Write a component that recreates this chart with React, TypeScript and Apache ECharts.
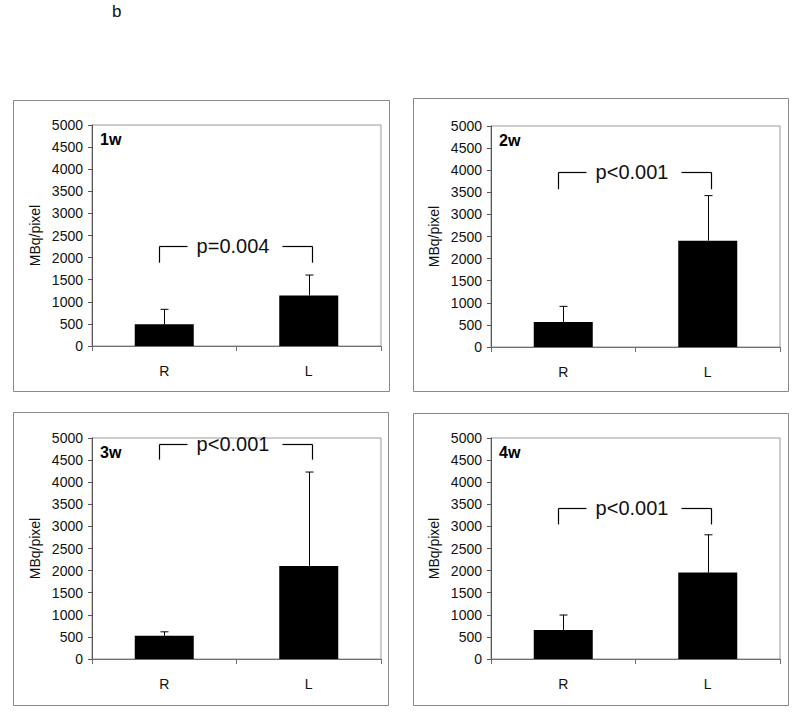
import React, { useEffect, useRef } from "react";
import * as echarts from "echarts";

const categories = ["R", "L"];
const panelLabels = ["1w", "2w", "3w", "4w"];
const meanR = [490, 565, 525, 655];
const meanL = [1145, 2405, 2105, 1955];
const sdR = [340, 355, 90, 340];
const sdL = [460, 1020, 2125, 855];
const bracketTop = [2270, 3950, 4870, 3420];
const bracketBottom = [1885, 3570, 4510, 3045];
const pLabels = ["p=0.004", "p<0.001", "p<0.001", "p<0.001"];
const yTicks = { min: 0, max: 5000, interval: 500 };

const FONT = "'Liberation Sans', Arial, sans-serif";

const grids = [
  { left: 92, top: 125, width: 289, height: 221 },
  { left: 491, top: 126, width: 289, height: 221 },
  { left: 92, top: 438, width: 289, height: 221 },
  { left: 491, top: 438, width: 289, height: 221 },
];
const frames = [
  { x: 13, y: 100, width: 376, height: 291 },
  { x: 413, y: 98, width: 375, height: 293 },
  { x: 13, y: 412, width: 375, height: 293 },
  { x: 413, y: 413, width: 375, height: 292 },
];

export default function App() {
  const ref = useRef<HTMLDivElement>(null);
  useEffect(() => {
    if (!ref.current) return;
    const chart = echarts.init(ref.current, null, { renderer: "svg" });

    const xAxis: any[] = [];
    const yAxis: any[] = [];
    const series: any[] = [];

    panelLabels.forEach((label, i) => {
      xAxis.push({
        type: "category",
        gridIndex: i,
        data: categories,
        boundaryGap: true,
        axisLine: { lineStyle: { color: "#707070", width: 1 } },
        axisTick: { show: true, alignWithLabel: false, length: 5, lineStyle: { color: "#707070" } },
        axisLabel: { color: "#111", fontSize: 14, fontFamily: FONT, margin: 18 },
        splitLine: { show: false },
      });
      yAxis.push({
        type: "value",
        gridIndex: i,
        min: yTicks.min,
        max: yTicks.max,
        interval: yTicks.interval,
        name: "MBq/pixel",
        nameLocation: "middle",
        nameGap: 50,
        nameTextStyle: { color: "#111", fontSize: 14, fontFamily: FONT },
        axisLine: { show: true, lineStyle: { color: "#555", width: 1 } },
        axisTick: { show: true, length: 4, lineStyle: { color: "#555" } },
        axisLabel: {
          color: "#111",
          fontSize: 14,
          fontFamily: FONT,
          margin: 9,
          formatter: (v: number) => String(v),
        },
        splitLine: { show: false },
      });
      series.push({
        type: "bar",
        xAxisIndex: i,
        yAxisIndex: i,
        data: [meanR[i], meanL[i]],
        barWidth: 59,
        itemStyle: { color: "#000" },
        z: 2,
      });
      series.push({
        type: "custom",
        xAxisIndex: i,
        yAxisIndex: i,
        z: 3,
        data: [
          [0, meanR[i], meanR[i] + sdR[i]],
          [1, meanL[i], meanL[i] + sdL[i]],
        ],
        renderItem: (params: any, api: any) => {
          const base = api.coord([api.value(0), api.value(1)]);
          const top = api.coord([api.value(0), api.value(2)]);
          const x = Math.round(base[0]) + 0.5;
          const style = { stroke: "#000", lineWidth: 1 };
          return {
            type: "group",
            children: [
              { type: "line", shape: { x1: x, y1: base[1], x2: x, y2: top[1] }, style },
              { type: "line", shape: { x1: x - 4, y1: top[1], x2: x + 4, y2: top[1] }, style },
            ],
          };
        },
      });
      series.push({
        type: "custom",
        xAxisIndex: i,
        yAxisIndex: i,
        z: 4,
        clip: false,
        data: [[0, bracketTop[i], 1, bracketBottom[i]]],
        renderItem: (params: any, api: any) => {
          const lt = api.coord([0, api.value(1)]);
          const rt = api.coord([1, api.value(1)]);
          const lb = api.coord([0, api.value(3)]);
          const xl = Math.round(lt[0] - 5) + 0.5;
          const xr = Math.round(rt[0] + 3) + 0.5;
          const yt = Math.round(lt[1]) + 0.5;
          const yb = lb[1];
          const style = { stroke: "#000", lineWidth: 1.2 };
          const mid = (xl + xr) / 2;
          return {
            type: "group",
            children: [
              { type: "line", shape: { x1: xl, y1: yb, x2: xl, y2: yt }, style },
              { type: "line", shape: { x1: xl, y1: yt, x2: xl + 28, y2: yt }, style },
              { type: "line", shape: { x1: xr - 30, y1: yt, x2: xr, y2: yt }, style },
              { type: "line", shape: { x1: xr, y1: yt, x2: xr, y2: yb }, style },
              {
                type: "text",
                x: mid - 3,
                y: yt - 1,
                style: {
                  text: pLabels[i],
                  fill: "#111",
                  font: `20px ${FONT}`,
                  align: "center",
                  verticalAlign: "middle",
                },
              },
            ],
          };
        },
      });
    });

    const graphic: any[] = [
      ...frames.map((f) => ({
        type: "rect",
        shape: { x: f.x + 0.5, y: f.y + 0.5, width: f.width, height: f.height },
        style: { fill: "none", stroke: "#888", lineWidth: 1 },
        z: 0,
      })),
      ...grids.map((g, i) => ({
        type: "text",
        left: g.left + 8,
        top: g.top + 6,
        style: { text: panelLabels[i], font: `bold 16px ${FONT}`, fill: "#000" },
        z: 10,
      })),
      {
        type: "text",
        left: 112,
        top: 3,
        style: { text: "b", font: `17px ${FONT}`, fill: "#111" },
      },
    ];

    chart.setOption({
      animation: false,
      backgroundColor: "#fff",
      grid: grids.map((g) => ({
        ...g,
        show: true,
        borderColor: "#999",
        borderWidth: 1,
        backgroundColor: "transparent",
        containLabel: false,
      })),
      xAxis,
      yAxis,
      series,
      graphic,
    });
    return () => chart.dispose();
  }, []);
  return (
    <div
      ref={ref}
      style={{ position: "fixed", left: 0, top: 0, width: 800, height: 715 }}
    />
  );
}
